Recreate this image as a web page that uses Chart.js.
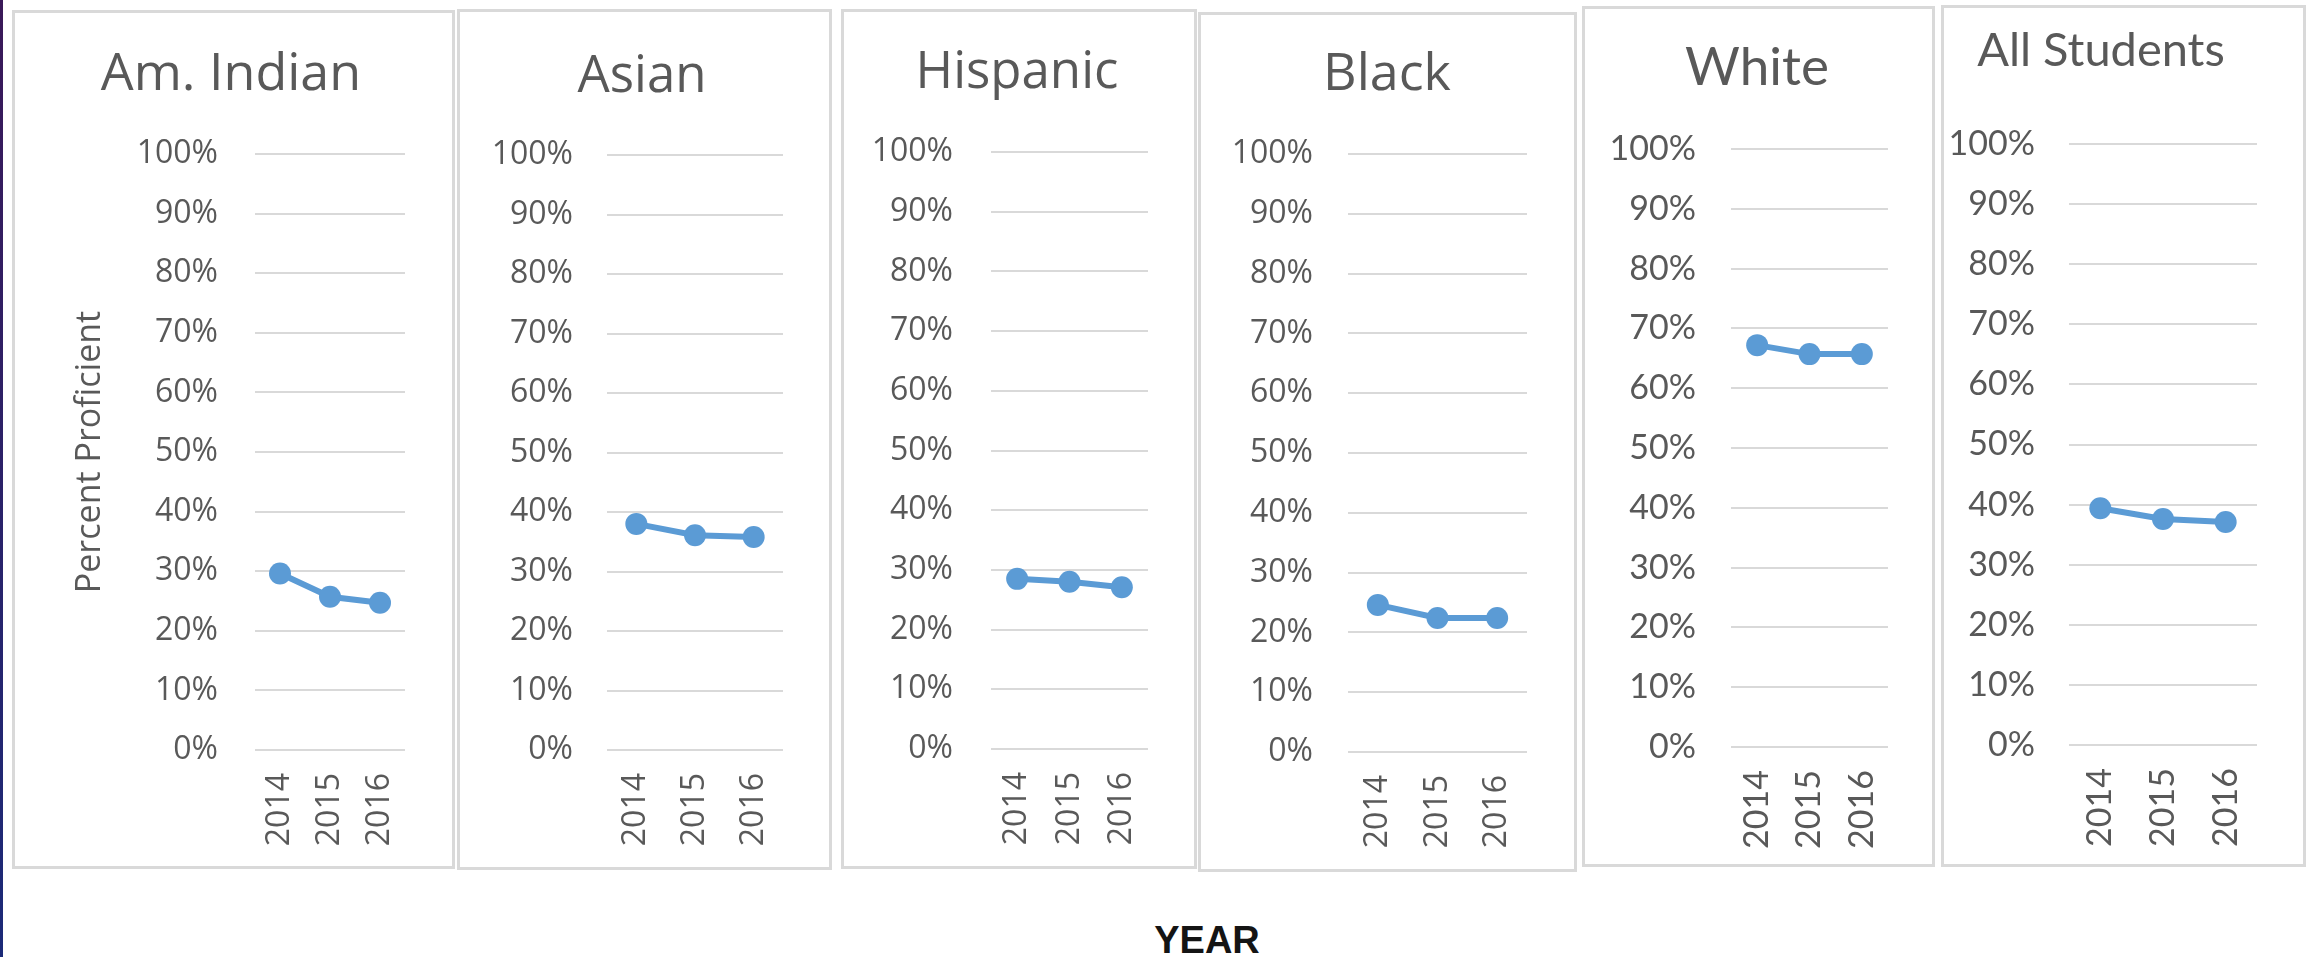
<!DOCTYPE html>
<html>
<head>
<meta charset="utf-8">
<title>Percent Proficient by Group</title>
<script src="https://cdn.jsdelivr.net/npm/chart.js@4/dist/chart.umd.min.js"></script>
<style>
  body { margin: 0; width: 2316px; height: 957px; background: #fff; position: relative; overflow: hidden; }
  .edge { position: absolute; left: 0; top: 0; width: 3px; height: 957px; background: linear-gradient(#3a1858, #1b2a78); }
  .panel { position: absolute; box-sizing: border-box; border: 3px solid #d9d9d9; pointer-events: none; }
  .title { position: absolute; width: 600px; text-align: center; line-height: 1; color: #595959; white-space: nowrap; }
  canvas { position: absolute; }
  #year { position: absolute; left: 1107px; top: 919px; width: 200px; text-align: center; line-height: 38px;
          font: bold 38px "Liberation Sans", Arial, sans-serif; color: #141414; }
</style>
</head>
<body>
<div class="edge"></div>
<div id="year">YEAR</div>
<script>
// data
const years = ['2014', '2015', '2016'];
const groups = ['Am. Indian', 'Asian', 'Hispanic', 'Black', 'White', 'All Students'];
const amIndian = [29.6, 25.7, 24.7];
const asian = [38.0, 36.1, 35.8];
const hispanic = [28.5, 28.0, 27.1];
const black = [24.6, 22.4, 22.4];
const white = [67.2, 65.7, 65.7];
const allStudents = [39.4, 37.6, 37.1];
const series = [amIndian, asian, hispanic, black, white, allStudents];

// where each small chart sits on the page
// box: panel frame, plot: grid left/right and 100%/0% lines
const panels = [
  { box: [12, 10, 455, 869],    plot: [255, 405, 154, 750],   tickRight: 218,  titleX: 231,  titleBase: 90, titleSize: 52, family: '"Open Sans"', yTitleX: 90 },
  { box: [457, 9, 832, 870],    plot: [607, 783, 155, 750],   tickRight: 573,  titleX: 642,  titleBase: 92, titleSize: 51, family: '"Open Sans"' },
  { box: [841, 9, 1197, 869],   plot: [991, 1148, 152, 749],  tickRight: 953,  titleX: 1017, titleBase: 88, titleSize: 51, family: '"Open Sans"' },
  { box: [1198, 12, 1577, 872], plot: [1348, 1527, 154, 752], tickRight: 1313, titleX: 1387, titleBase: 90, titleSize: 52, family: '"Open Sans"' },
  { box: [1582, 6, 1935, 867],  plot: [1731, 1888, 149, 747], tickRight: 1696, titleX: 1757, titleBase: 85, titleSize: 53, family: 'Lato' },
  { box: [1941, 5, 2306, 867],  plot: [2069, 2257, 144, 745], tickRight: 2035, titleX: 2101, titleBase: 67, titleSize: 47, family: 'Lato' }
];

const grey = '#595959';
const blue = '#5b9bd5';

panels.forEach((p, i) => {
  const [x1, y1, x2, y2] = p.box;
  const [gx1, gx2, gTop, gBottom] = p.plot;
  const w = x2 - x1, h = y2 - y1;

  const canvas = document.createElement('canvas');
  canvas.width = w;
  canvas.height = h;
  canvas.style.left = x1 + 'px';
  canvas.style.top = y1 + 'px';
  document.body.appendChild(canvas);

  const frame = document.createElement('div');
  frame.className = 'panel';
  Object.assign(frame.style, { left: x1 + 'px', top: y1 + 'px', width: w + 'px', height: h + 'px' });
  document.body.appendChild(frame);

  // panel heading, baseline sits at titleBase
  const head = document.createElement('div');
  head.className = 'title';
  head.textContent = groups[i];
  Object.assign(head.style, {
    left: (p.titleX - 300) + 'px',
    top: (p.titleBase - 0.888 * p.titleSize) + 'px',
    fontFamily: p.family,
    fontSize: p.titleSize + 'px'
  });
  document.body.appendChild(head);

  const tickFont = { family: p.family, size: p.family === 'Lato' ? 34 : 32 };

  let yTitle = { display: false };
  if (p.yTitleX) {
    const size = 34;
    yTitle = {
      display: true,
      text: 'Percent Proficient',
      color: grey,
      font: { family: '"Open Sans"', size: size, lineHeight: 1.2 },
      padding: { top: p.yTitleX - x1 - 0.6 * size, bottom: 0 }
    };
  }

  new Chart(canvas, {
    type: 'line',
    data: {
      labels: years,
      datasets: [{
        data: series[i],
        borderColor: blue,
        backgroundColor: blue,
        borderWidth: 6,
        pointRadius: 11,
        pointHoverRadius: 11,
        pointBorderWidth: 0,
        tension: 0
      }]
    },
    options: {
      responsive: false,
      animation: false,
      devicePixelRatio: 1,
      layout: { padding: { left: 0, right: x2 - gx2, top: gTop - y1, bottom: 0 } },
      plugins: {
        legend: { display: false },
        tooltip: { enabled: false },
        title: { display: false }
      },
      scales: {
        x: {
          offset: true,
          grid: { display: false },
          border: { display: false },
          ticks: { color: grey, font: tickFont, minRotation: 90, maxRotation: 90, autoSkip: false, padding: 15 },
          afterFit: s => { s.height = y2 - gBottom; }
        },
        y: {
          min: 0,
          max: 100,
          grid: { color: '#d9d9d9', lineWidth: 2, drawTicks: false },
          border: { display: false },
          ticks: { stepSize: 10, color: grey, font: tickFont, padding: gx1 - p.tickRight, callback: v => v + '%' },
          title: yTitle,
          afterFit: s => { s.width = gx1 - x1; }
        }
      }
    }
  });
});
</script>
</body>
</html>
